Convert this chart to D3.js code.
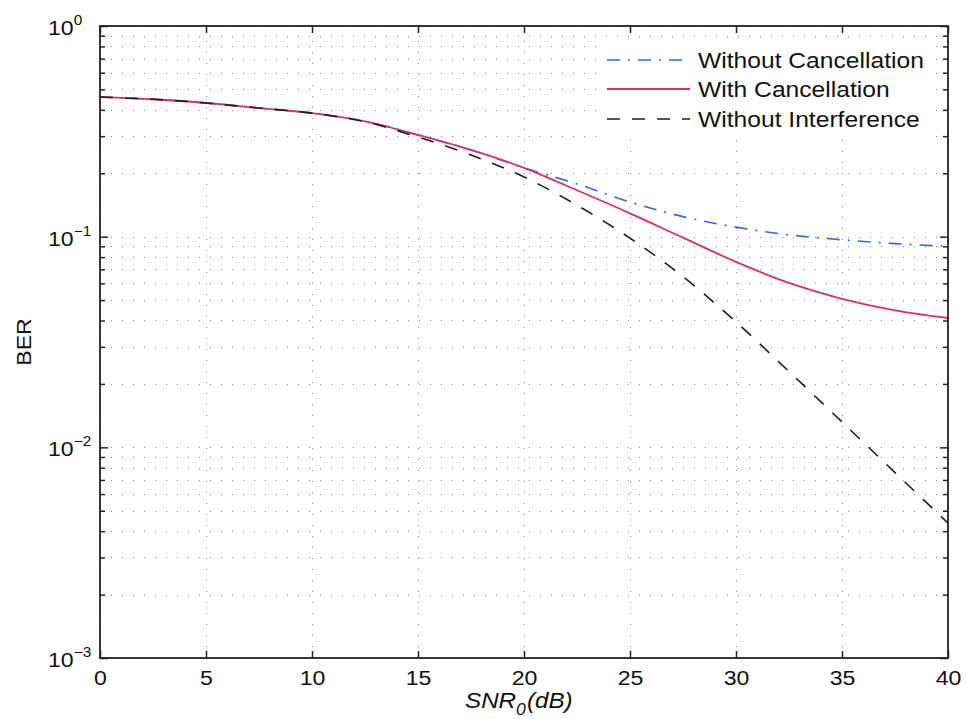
<!DOCTYPE html>
<html><head><meta charset="utf-8">
<script src="https://cdn.jsdelivr.net/npm/d3@7"></script>
<style>
body{margin:0;background:#fff;}
svg{display:block;font-family:"Liberation Sans",Arial,sans-serif;}
</style></head>
<body><svg id="c" width="966" height="719"></svg>
<script>
const snr = [0,2.5,5,7.5,10,12.5,15,17.5,20,22.5,25,27.5,30,32.5,35,37.5,40];
const berWithoutCancellation = [0.46,0.449,0.431,0.408,0.386,0.353,0.304,0.258,0.212,0.178,0.146,0.1245,0.111,0.102,0.0966,0.0927,0.090];
const berWithCancellation    = [0.46,0.449,0.431,0.408,0.386,0.353,0.304,0.258,0.212,0.166,0.129,0.0989,0.0759,0.0603,0.0507,0.0447,0.0411];
const berWithoutInterference = [0.46,0.449,0.431,0.408,0.386,0.351,0.297,0.244,0.192,0.141,0.0985,0.0646,0.0394,0.0229,0.0132,0.00759,0.00437];
const xTicks = [0,5,10,15,20,25,30,35,40];
const yDecades = [-3,-2,-1,0];
const legendLabels = ["Without Cancellation","With Cancellation","Without Interference"];

const svg = d3.select("#c");
const L=100,R=948,T=26,B=658;
const x = d3.scaleLinear().domain([0,40]).range([L,R]);
const y = d3.scaleLog().domain([1e-3,1]).range([B,T]);

const minorVals = [];
for (const e of [-3,-2,-1]) for (let m=2;m<=9;m++) minorVals.push(m*Math.pow(10,e));
const majorVals = yDecades.map(e=>Math.pow(10,e));

// grid
const g = svg.append("g").attr("stroke","#8f8f8f").attr("stroke-width",1).attr("stroke-dasharray","1,10");
g.selectAll(".gy").data(majorVals.concat(minorVals)).join("line")
  .attr("x1",L).attr("x2",R).attr("y1",d=>Math.round(y(d))+0.5).attr("y2",d=>Math.round(y(d))+0.5);
g.selectAll(".gx").data(xTicks).join("line")
  .attr("x1",d=>Math.round(x(d))+0.5).attr("x2",d=>Math.round(x(d))+0.5).attr("y1",B).attr("y2",T);

// series
const series = [
  {v:berWithoutCancellation, color:"#3d63d4", dash:"13,8,2,8", w:1.6},
  {v:berWithCancellation, color:"#d9306b", dash:null, w:1.8},
  {v:berWithoutInterference, color:"#1e1e1e", dash:"13,12", w:1.6}
];
const line = d3.line().x(d=>x(d[0])).y(d=>y(d[1])).curve(d3.curveCatmullRom.alpha(0.5));
series.forEach(s=>{
  svg.append("path").datum(snr.map((t,i)=>[t,s.v[i]]))
    .attr("d",line).attr("fill","none").attr("stroke",s.color)
    .attr("stroke-width",s.w).attr("stroke-dasharray",s.dash);
});

// axes (ticks inside)
const axC = "#222";
function styleAxis(sel){ sel.select(".domain").remove(); sel.selectAll("line").attr("stroke",axC).attr("stroke-width",1.5); }
svg.append("g").attr("transform",`translate(0,${B})`)
  .call(d3.axisBottom(x).tickValues(xTicks).tickSize(-7).tickPadding(12).tickFormat(d3.format("d")))
  .call(styleAxis)
  .call(s=>s.selectAll("text").attr("font-size",21).attr("fill","#111").attr("transform","scale(1.1,1)"));
svg.append("g").attr("transform",`translate(0,${T})`)
  .call(d3.axisTop(x).tickValues(xTicks).tickSize(-7).tickFormat(""))
  .call(styleAxis);
svg.append("g").attr("transform",`translate(${L},0)`)
  .call(d3.axisLeft(y).tickValues(majorVals).tickSize(-8).tickFormat(""))
  .call(styleAxis);
svg.append("g").attr("transform",`translate(${L},0)`)
  .call(d3.axisLeft(y).tickValues(minorVals).tickSize(-5).tickFormat(""))
  .call(styleAxis);
svg.append("g").attr("transform",`translate(${R},0)`)
  .call(d3.axisRight(y).tickValues(majorVals).tickSize(-8).tickFormat(""))
  .call(styleAxis);
svg.append("g").attr("transform",`translate(${R},0)`)
  .call(d3.axisRight(y).tickValues(minorVals).tickSize(-5).tickFormat(""))
  .call(styleAxis);

// y tick labels 10^e
yDecades.forEach(e=>{
  const t = svg.append("text").attr("transform",`translate(48,${y(Math.pow(10,e))+9}) scale(1.1,1)`)
    .attr("font-size",21).attr("fill","#111");
  t.append("tspan").text("10");
  t.append("tspan").attr("dy",-10).attr("font-size",14).text(e===0?"0":"\u2212"+(-e));
});

// frame
svg.append("rect").attr("x",L).attr("y",T).attr("width",R-L).attr("height",B-T)
  .attr("fill","none").attr("stroke",axC).attr("stroke-width",1.8);

// legend
const lg = svg.append("g");
lg.append("rect").attr("x",603).attr("y",37).attr("width",332).attr("height",101).attr("fill","#fff");
const ly = [60,89,119];
series.forEach((s,i)=>{
  lg.append("line").attr("x1",607).attr("x2",690).attr("y1",ly[i]).attr("y2",ly[i])
    .attr("stroke",s.color).attr("stroke-width",s.w).attr("stroke-dasharray",s.dash);
  lg.append("text").attr("transform",`translate(698,${ly[i]+8}) scale(1.12,1)`)
    .attr("font-size",22).attr("fill","#111").text(legendLabels[i]);
});

// axis labels
const xl = svg.append("text").attr("transform","translate(465,708) scale(1.1,1)")
  .attr("font-size",22).attr("font-style","italic").attr("fill","#111");
xl.append("tspan").text("SNR");
xl.append("tspan").attr("dy",7).attr("font-size",16).text("0");
xl.append("tspan").attr("dy",-7).attr("dx",1).text("(dB)");
svg.append("text").attr("transform",`translate(31,${(T+B)/2}) rotate(-90) scale(1.1,1)`)
  .attr("text-anchor","middle").attr("font-size",21).attr("fill","#111").text("BER");
</script></body></html>
